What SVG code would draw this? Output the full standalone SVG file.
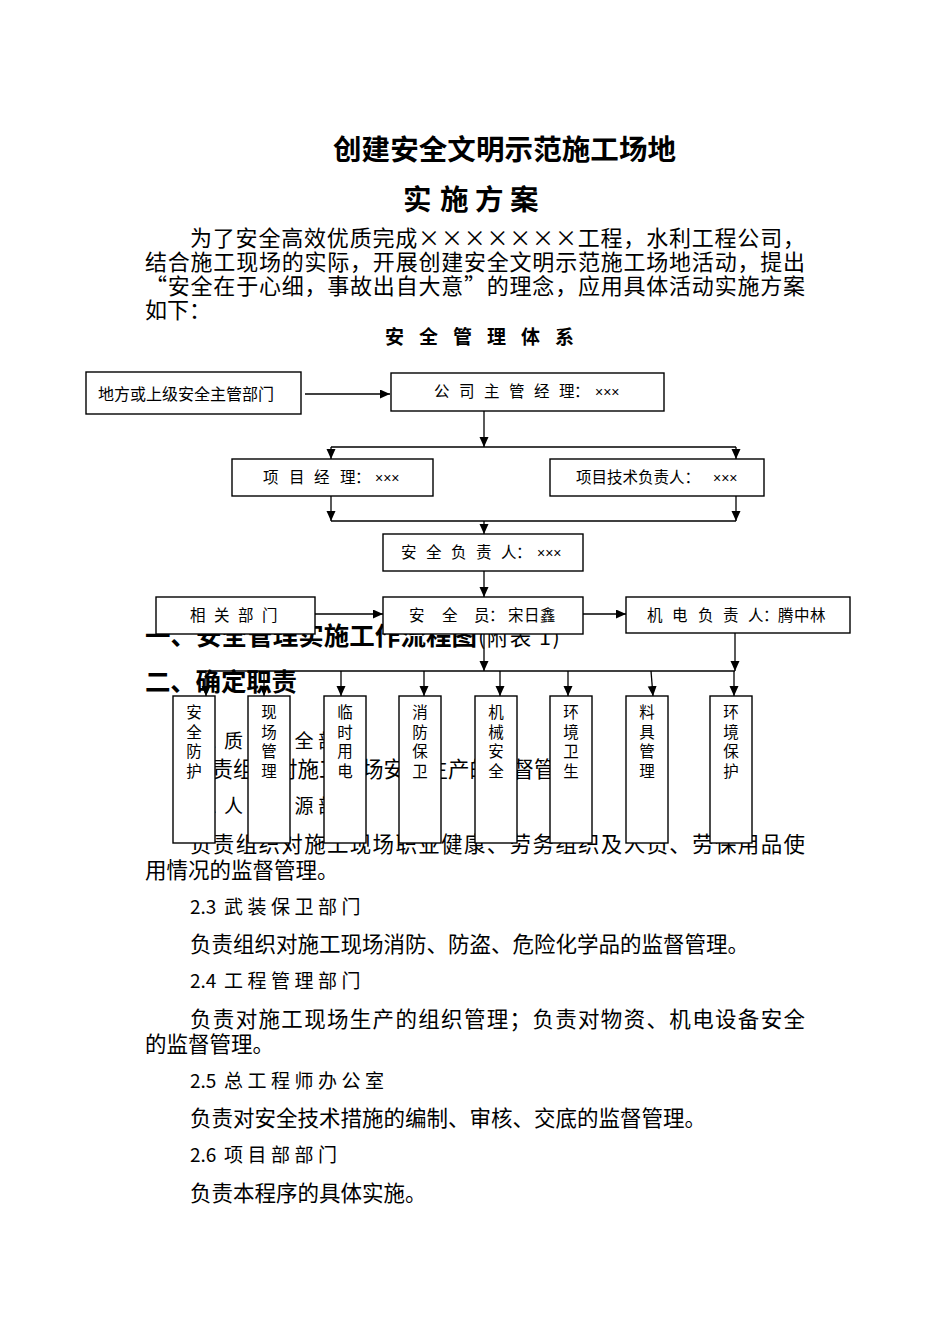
<svg xmlns="http://www.w3.org/2000/svg" width="950" height="1344" viewBox="0 0 950 1344">
<style>
.t{font-family:"Noto Sans CJK SC","Noto Sans CJK JP",sans-serif;fill:#000}
.b{font-weight:bold}
.h{font-size:28.5px;font-weight:bold}
.p{font-size:22px}
.s{font-size:21.5px}
.n{font-size:19px}
.sp{letter-spacing:4.5px}
.k{font-size:15.5px}
.v{font-size:15.5px;text-anchor:middle}
.x{font-family:"Liberation Sans",Arial,sans-serif;font-size:14px}
.box{fill:#fff;stroke:#000;stroke-width:1.4}
.ln{fill:none;stroke:#000;stroke-width:1.3}
.ar{fill:none;stroke:#000;stroke-width:1.3;marker-end:url(#ah)}
</style>
<defs>
<marker id="ah" markerUnits="userSpaceOnUse" markerWidth="10" markerHeight="10" refX="10" refY="4.5" orient="auto">
<path d="M0,0 L10,4.5 L0,9 z" fill="#000"/>
</marker>
</defs>
<rect width="950" height="1344" fill="#fff"/>

<!-- titles and intro -->
<text class="t h" x="333" y="160" textLength="343" lengthAdjust="spacing">创建安全文明示范施工场地</text>
<text class="t h" x="403 440 475 510" y="210">实施方案</text>
<text class="t p" x="190" y="246" textLength="615" lengthAdjust="spacing">为了安全高效优质完成×××××××工程，水利工程公司，</text>
<text class="t p" x="145" y="270" textLength="660" lengthAdjust="spacing">结合施工现场的实际，开展创建安全文明示范施工场地活动，提出</text>
<text class="t p" x="145" y="294" textLength="660" lengthAdjust="spacing">“安全在于心细，事故出自大意”的理念，应用具体活动实施方案</text>
<text class="t p" x="145" y="318">如下：</text>
<text class="t b" style="font-size:19px" x="385 419 453 487 521 555" y="344">安全管理体系</text>

<!-- body text behind the chart -->
<text class="t b" style="font-size:25.5px" x="145" y="645" textLength="332" lengthAdjust="spacing">一、安全管理实施工作流程图</text>
<text class="t" style="font-size:21.5px;letter-spacing:1.5px" x="478" y="645">(附表 1)</text>
<text class="t b" style="font-size:25.5px" x="145" y="691" textLength="152" lengthAdjust="spacing">二、确定职责</text>
<text class="t n" x="190" y="748">2.1<tspan class="sp" x="224">质量安全部门</tspan></text>
<text class="t s" x="190" y="777">负责组织对施工现场安全生产的监督管理。</text>
<text class="t n" x="190" y="813">2.2<tspan class="sp" x="224">人力资源部门</tspan></text>
<text class="t s" x="190" y="852" textLength="615" lengthAdjust="spacing">负责组织对施工现场职业健康、劳务组织及人员、劳保用品使</text>
<text class="t s" x="145" y="878">用情况的监督管理。</text>
<text class="t n" x="190" y="914">2.3<tspan class="sp" x="224">武装保卫部门</tspan></text>
<text class="t s" x="190" y="952">负责组织对施工现场消防、防盗、危险化学品的监督管理。</text>
<text class="t n" x="190" y="988">2.4<tspan class="sp" x="224">工程管理部门</tspan></text>
<text class="t s" x="190" y="1027" textLength="615" lengthAdjust="spacing">负责对施工现场生产的组织管理；负责对物资、机电设备安全</text>
<text class="t s" x="145" y="1052">的监督管理。</text>
<text class="t n" x="190" y="1088">2.5<tspan class="sp" x="224">总工程师办公室</tspan></text>
<text class="t s" x="190" y="1126">负责对安全技术措施的编制、审核、交底的监督管理。</text>
<text class="t n" x="190" y="1162">2.6<tspan class="sp" x="224">项目部部门</tspan></text>
<text class="t s" x="190" y="1201">负责本程序的具体实施。</text>

<!-- connectors -->
<g id="connectors">
<path class="ar" d="M305,394 H390"/>
<path class="ar" d="M484,411 V447"/>
<path class="ln" d="M331,447 H736"/>
<path class="ar" d="M331,447 V459"/>
<path class="ar" d="M736,447 V459"/>
<path class="ar" d="M331,496 V521"/>
<path class="ar" d="M736,496 V521"/>
<path class="ln" d="M331,521 H736"/>
<path class="ar" d="M484,521 V534"/>
<path class="ar" d="M484,571 V597"/>
<path class="ar" d="M315,614 H383"/>
<path class="ar" d="M583,614 H626"/>
<path class="ar" d="M484,634 V671"/>
<path class="ar" d="M735,633 V671"/>
<path class="ln" d="M205,671 H735"/>
<path class="ar" d="M206,671 V696"/>
<path class="ar" d="M264,671 V696"/>
<path class="ar" d="M341,671 V696"/>
<path class="ar" d="M424,671 V696"/>
<path class="ar" d="M500,671 V696"/>
<path class="ar" d="M568,671 V696"/>
<path class="ar" d="M651,671 L653,696"/>
<path class="ar" d="M734,671 V696"/>
</g>

<!-- nodes -->
<g id="n-local">
<rect class="box" x="86" y="372" width="215" height="42"/>
<text class="t" style="font-size:16px" x="98" y="400">地方或上级安全主管部门</text>
</g>
<g id="n-company">
<rect class="box" x="391" y="373" width="273" height="38"/>
<text class="t k" x="434 459 484 509 534 559 574" y="397">公司主管经理：<tspan class="x" x="595">×××</tspan></text>
</g>
<g id="n-pm">
<rect class="box" x="232" y="459" width="201" height="37"/>
<text class="t k" x="263 289 314 340 355" y="483">项目经理：<tspan class="x" x="375">×××</tspan></text>
</g>
<g id="n-tech">
<rect class="box" x="550" y="459" width="214" height="37"/>
<text class="t k" x="576" y="483">项目技术负责人：<tspan class="x" x="713">×××</tspan></text>
</g>
<g id="n-safety-head">
<rect class="box" x="383" y="534" width="200" height="37"/>
<text class="t k" x="401 426 451 476 501 516" y="558">安全负责人：<tspan class="x" x="537">×××</tspan></text>
</g>
<g id="n-related">
<rect class="box" x="156" y="597" width="159" height="37"/>
<text class="t k" x="190 214 238 262" y="621">相关部门</text>
</g>
<g id="n-safety-officer">
<rect class="box" x="383" y="597" width="200" height="37"/>
<text class="t k" x="409 442 474 489 508 524 540" y="621">安全员：宋日鑫</text>
</g>
<g id="n-mech">
<rect class="box" x="626" y="597" width="224" height="36"/>
<text class="t k" x="647 672 698 723 748 763 778 794 810" y="621">机电负责人：腾中林</text>
</g>
<g id="n-b1"><rect class="box" x="173" y="696" width="42" height="147"/><text class="t v" x="194" y="718">安</text><text class="t v" x="194" y="738">全</text><text class="t v" x="194" y="757">防</text><text class="t v" x="194" y="777">护</text></g>
<g id="n-b2"><rect class="box" x="248" y="696" width="42" height="147"/><text class="t v" x="269" y="718">现</text><text class="t v" x="269" y="738">场</text><text class="t v" x="269" y="757">管</text><text class="t v" x="269" y="777">理</text></g>
<g id="n-b3"><rect class="box" x="324" y="696" width="42" height="147"/><text class="t v" x="345" y="718">临</text><text class="t v" x="345" y="738">时</text><text class="t v" x="345" y="757">用</text><text class="t v" x="345" y="777">电</text></g>
<g id="n-b4"><rect class="box" x="399" y="696" width="42" height="147"/><text class="t v" x="420" y="718">消</text><text class="t v" x="420" y="738">防</text><text class="t v" x="420" y="757">保</text><text class="t v" x="420" y="777">卫</text></g>
<g id="n-b5"><rect class="box" x="475" y="696" width="42" height="147"/><text class="t v" x="496" y="718">机</text><text class="t v" x="496" y="738">械</text><text class="t v" x="496" y="757">安</text><text class="t v" x="496" y="777">全</text></g>
<g id="n-b6"><rect class="box" x="550" y="696" width="42" height="147"/><text class="t v" x="571" y="718">环</text><text class="t v" x="571" y="738">境</text><text class="t v" x="571" y="757">卫</text><text class="t v" x="571" y="777">生</text></g>
<g id="n-b7"><rect class="box" x="626" y="696" width="42" height="147"/><text class="t v" x="647" y="718">料</text><text class="t v" x="647" y="738">具</text><text class="t v" x="647" y="757">管</text><text class="t v" x="647" y="777">理</text></g>
<g id="n-b8"><rect class="box" x="710" y="696" width="42" height="147"/><text class="t v" x="731" y="718">环</text><text class="t v" x="731" y="738">境</text><text class="t v" x="731" y="757">保</text><text class="t v" x="731" y="777">护</text></g>
</svg>
